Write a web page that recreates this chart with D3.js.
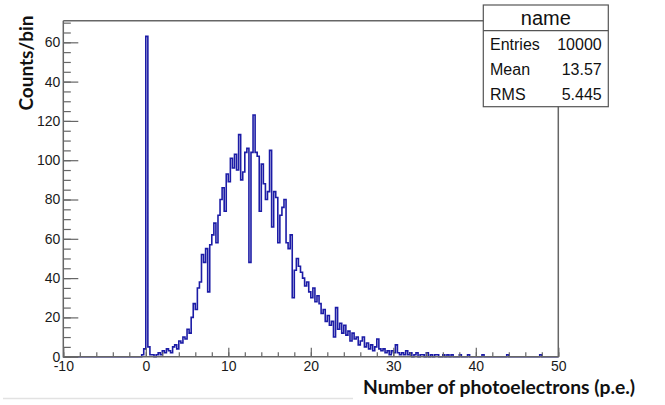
<!DOCTYPE html>
<html>
<head>
<meta charset="utf-8">
<script src="https://cdn.jsdelivr.net/npm/d3@7"></script>
<style>
  body { margin: 0; background: #fff; }
  text { font-family: "Liberation Sans", Arial, sans-serif; }
</style>
</head>
<body>
<svg id="chart" width="665" height="405"></svg>
<script>
// histogram: bins of 0.25 p.e. starting at -0.5
const firstEdge = -0.5
const binWidth = 0.25
const counts = [
  1, 4, 163, 5, 1, 1, 0, 1, 2, 1,
  3, 2, 4, 3, 2, 5, 6, 4, 8, 7,
  10, 9, 14, 12, 20, 27, 24, 35, 38, 52,
  48, 55, 33, 57, 62, 68, 58, 72, 80, 86,
  74, 93, 89, 101, 96, 103, 95, 113, 90, 94,
  104, 106, 48, 104, 123, 104, 102, 74, 98, 88,
  80, 84, 105, 66, 84, 81, 58, 72, 76, 80,
  58, 55, 62, 30, 44, 50, 46, 43, 40, 36,
  38, 33, 30, 35, 28, 31, 27, 22, 24, 18,
  21, 16, 18, 10, 25, 14, 17, 12, 16, 11,
  13, 8, 12, 9, 10, 6, 8, 10, 5, 7,
  4, 6, 3, 5, 9, 4, 3, 4, 2, 3,
  1, 3, 2, 6, 2, 1, 2, 1, 3, 1,
  2, 0, 1, 2, 0, 1, 1, 0, 2, 0,
  1, 0, 1, 1, 0, 0, 1, 0, 1, 0,
  1
]
// isolated single entries in the far tail
const tailEdges = [38.0, 39.0, 40.75, 43.75, 47.75]
const tailCounts = [1, 1, 1, 1, 1]

const xTicks = [-10, 0, 10, 20, 30, 40, 50]
const xTickLabels = ["-10", "0", "10", "20", "30", "40", "50"]
const yTicks = [0, 20, 40, 60, 80, 100, 120, 140, 160]
const yTickLabels = ["0", "20", "40", "60", "80", "100", "120", "40", "60"]

const statTitle = "name"
const statNames = ["Entries", "Mean", "RMS"]
const statValues = ["10000", "13.57", "5.445"]

const xTitle = "Number of photoelectrons (p.e.)"
const yTitle = "Counts/bin"

const svg = d3.select("#chart")

const frame = { left: 63.3, right: 558.3, top: 20.7, bottom: 356.7 }
const x = d3.scaleLinear().domain([-10, 50]).range([frame.left, frame.right])
const y = d3.scaleLinear().domain([0, 171]).range([frame.bottom, frame.top])

// faint line at the bottom of the slide
svg.append("line")
  .attr("x1", 3).attr("x2", 353)
  .attr("y1", 398.5).attr("y2", 398.5)
  .attr("stroke", "#e2e2e2")
  .attr("stroke-width", 1.5)

// full bin table over the axis range
const nBins = Math.round((50 - -10) / binWidth)
const bins = d3.range(nBins).map(i => ({ x0: -10 + i * binWidth, n: 0 }))
const binIndex = v => Math.round((v - -10) / binWidth)
counts.forEach((c, i) => { bins[binIndex(firstEdge + i * binWidth)].n = c })
tailEdges.forEach((e, i) => { bins[binIndex(e)].n = tailCounts[i] })

const pts = bins.map(b => [b.x0, b.n])
pts.push([50, bins[bins.length - 1].n])

const histLine = d3.line()
  .x(d => x(d[0]))
  .y(d => y(d[1]))
  .curve(d3.curveStepAfter)

svg.append("path")
  .attr("d", histLine(pts))
  .attr("fill", "none")
  .attr("stroke", "#1c1ca6")
  .attr("stroke-width", 1.6)

// axes, ROOT style ticks pointing inside
const tickColor = "#666"

svg.append("g")
  .attr("transform", `translate(0,${frame.bottom})`)
  .call(d3.axisBottom(x).tickValues(xTicks).tickSize(-9).tickPadding(4)
    .tickFormat((d, i) => xTickLabels[i]))
svg.append("g")
  .attr("transform", `translate(0,${frame.bottom})`)
  .call(d3.axisBottom(x).tickValues(d3.range(-10, 50.1, 2)).tickSize(-4.5).tickFormat(""))

svg.append("g")
  .attr("transform", `translate(${frame.left},0)`)
  .call(d3.axisLeft(y).tickValues(yTicks).tickSize(-15).tickPadding(3)
    .tickFormat((d, i) => yTickLabels[i]))
svg.append("g")
  .attr("transform", `translate(${frame.left},0)`)
  .call(d3.axisLeft(y).tickValues(d3.range(0, 171, 5)).tickSize(-7.5).tickFormat(""))

svg.selectAll(".domain").remove()
svg.selectAll(".tick line").attr("stroke", tickColor).attr("stroke-width", 1.2)
svg.selectAll(".tick text")
  .attr("fill", "#1a1a1a")
  .style("font-size", "14px")
  .style("font-family", "'Liberation Sans', Arial, sans-serif")

// frame
svg.append("path")
  .attr("d", `M${frame.left},${frame.top}V${frame.bottom}H${frame.right}V${frame.top}H${frame.left}`)
  .attr("fill", "none")
  .attr("stroke", "#666")
  .attr("stroke-width", 1.5)

// stats box
const box = { x0: 483.3, x1: 608.3, y0: 5, y1: 106.7, head: 30.7 }
svg.append("rect")
  .attr("x", box.x0).attr("y", box.y0)
  .attr("width", box.x1 - box.x0).attr("height", box.y1 - box.y0)
  .attr("fill", "#fff")
  .attr("stroke", "#555")
  .attr("stroke-width", 1.2)
svg.append("line")
  .attr("x1", box.x0).attr("x2", box.x1)
  .attr("y1", box.head).attr("y2", box.head)
  .attr("stroke", "#555")
  .attr("stroke-width", 1.2)
svg.append("text")
  .attr("x", (box.x0 + box.x1) / 2)
  .attr("y", 25)
  .attr("text-anchor", "middle")
  .attr("font-size", 20)
  .attr("fill", "#111")
  .text(statTitle)

const rowY = d3.scalePoint().domain(statNames).range([50, 100])
statNames.forEach((name, i) => {
  svg.append("text")
    .attr("x", 490).attr("y", rowY(name))
    .attr("font-size", 16).attr("fill", "#111")
    .text(name)
  svg.append("text")
    .attr("x", 601.7).attr("y", rowY(name))
    .attr("text-anchor", "end")
    .attr("font-size", 16).attr("fill", "#111")
    .text(statValues[i])
})

// axis titles
svg.append("text")
  .attr("transform", "translate(33,63) rotate(-90)")
  .attr("text-anchor", "middle")
  .style("font-family", "Lato, 'Open Sans', sans-serif")
  .style("font-weight", "bold")
  .style("font-size", "19px")
  .attr("fill", "#111")
  .text(yTitle)

svg.append("text")
  .attr("x", 363).attr("y", 394)
  .style("font-family", "Lato, 'Open Sans', sans-serif")
  .style("font-weight", "bold")
  .style("font-size", "19.3px")
  .attr("fill", "#111")
  .text(xTitle)
</script>
</body>
</html>
